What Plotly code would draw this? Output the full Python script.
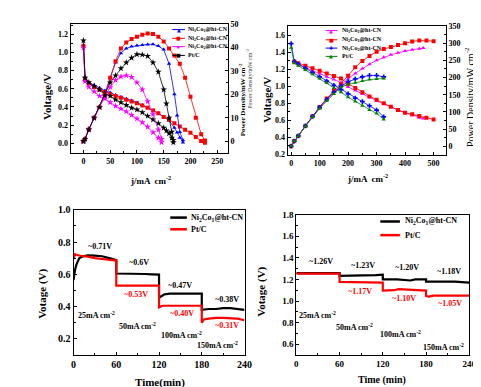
import plotly.graph_objects as go

W, H = 481, 387
SERIF = "Liberation Serif"

# ---------------- Top-left panel: polarization & power (j / mA cm-2) ----------------
tl_ni11_j = [0, 3, 10, 20, 30, 40, 50, 60, 70, 80, 90, 100, 110, 120, 130, 140, 150, 160, 170, 175, 180, 186]
tl_ni11_v = [1.08, 0.73, 0.67, 0.64, 0.61, 0.58, 0.56, 0.53, 0.51, 0.49, 0.47, 0.45, 0.42, 0.39, 0.36, 0.33, 0.29, 0.25, 0.17, 0.12, 0.06, 0.01]
tl_ni11_p = [0, 1, 5, 10, 14.5, 20, 27, 33.5, 37.5, 39.5, 40.3, 40.7, 41, 41.2, 41.3, 40.5, 39, 33, 20, 11, 4, 0.5]

tl_ni21_j = [0, 3, 10, 20, 30, 40, 50, 60, 70, 80, 90, 100, 110, 120, 130, 140, 150, 160, 170, 180, 190, 200, 210, 220, 227]
tl_ni21_v = [1.07, 0.71, 0.66, 0.62, 0.59, 0.565, 0.54, 0.52, 0.50, 0.48, 0.46, 0.44, 0.415, 0.39, 0.36, 0.33, 0.29, 0.26, 0.22, 0.185, 0.15, 0.115, 0.07, 0.025, 0.005]
tl_ni21_p = [0, 1, 5, 10, 14.5, 20, 27, 34, 39.5, 42, 43.5, 44.5, 45.3, 45.8, 45.6, 44.5, 42.5, 39.5, 36.5, 33, 27, 19, 10, 3, 0.3]

tl_ni12_j = [0, 3, 10, 20, 30, 40, 50, 60, 70, 80, 90, 100, 110, 120, 130, 140, 146]
tl_ni12_v = [1.05, 0.68, 0.62, 0.57, 0.52, 0.49, 0.45, 0.41, 0.38, 0.35, 0.31, 0.27, 0.23, 0.18, 0.12, 0.06, 0.01]
tl_ni12_p = [0, 1, 5, 10, 14.5, 19, 23, 26, 27.5, 28, 27.3, 25, 22, 17, 11.5, 5, 1]

tl_pt_j = [0, 3, 10, 20, 30, 40, 50, 60, 70, 80, 90, 100, 110, 120, 130, 140, 150, 155, 160, 165, 168]
tl_pt_v = [1.13, 0.72, 0.67, 0.63, 0.59, 0.55, 0.52, 0.48, 0.45, 0.42, 0.39, 0.37, 0.34, 0.30, 0.26, 0.22, 0.17, 0.14, 0.11, 0.06, 0.01]
tl_pt_p = [0, 1, 5, 10, 14.5, 19.5, 25, 28, 31, 33.5, 35.5, 37, 36.8, 36.2, 33.5, 29.5, 22, 16, 10, 4, 0.5]

# ---------------- Top-right panel ----------------
tr_a_j = [11, 25, 50, 75, 100, 125, 150, 175, 200, 225, 250, 275, 300, 325, 350, 375, 400, 425, 450, 464]
tr_a_v = [1.29, 1.26, 1.22, 1.18, 1.15, 1.11, 1.08, 1.04, 0.99, 0.95, 0.91, 0.87, 0.83, 0.79, 0.76, 0.72, 0.69, 0.66, 0.63, 0.62]
tr_a_pj = [0, 11, 25, 50, 75, 100, 125, 150, 175, 200, 225, 250, 275, 300, 325, 350, 375, 400, 425, 450, 464]
tr_a_p = [0, 15, 30, 59, 87, 113, 137, 158, 178, 197, 212, 226, 239, 250, 259, 266, 272, 277, 281, 284, 286]

tr_b_j = [11, 25, 50, 75, 100, 125, 150, 175, 200, 225, 250, 275, 300, 325, 350, 375, 400, 425, 450, 475, 500]
tr_b_v = [1.29, 1.27, 1.24, 1.21, 1.18, 1.15, 1.12, 1.09, 1.03, 0.98, 0.93, 0.88, 0.84, 0.80, 0.76, 0.72, 0.69, 0.67, 0.65, 0.63, 0.61]
tr_b_pj = [0, 11, 25, 50, 75, 100, 125, 150, 175, 200, 225, 250, 275, 300, 325, 350, 375, 400, 425, 450, 475, 500]
tr_b_p = [0, 15, 30, 59, 87, 114, 139, 161, 182, 205, 230, 248, 263, 275, 283, 289, 295, 300, 305, 308, 308, 306]

tr_c_j = [0, 11, 25, 50, 75, 100, 125, 150, 175, 200, 225, 250, 275, 300, 325]
tr_c_v = [1.50, 1.29, 1.26, 1.21, 1.16, 1.11, 1.06, 1.01, 0.96, 0.91, 0.86, 0.82, 0.77, 0.72, 0.64]
tr_c_p = [0, 15, 30, 59, 87, 113, 136, 157, 175, 188, 196, 202, 206, 206, 202]

tr_pt_j = [0, 11, 25, 50, 75, 100, 125, 150, 175, 200, 225, 250, 275, 300, 325]
tr_pt_v = [1.45, 1.27, 1.24, 1.19, 1.14, 1.09, 1.04, 0.98, 0.93, 0.87, 0.82, 0.77, 0.72, 0.68, 0.61]
tr_pt_p = [0, 15, 30, 58, 85, 110, 132, 152, 172, 180, 185, 190, 194, 196, 197]

# ---------------- Bottom-left panel: stability ----------------
bl_ni_t = [0, 1, 2, 4, 6, 8, 12, 16, 20, 30, 40, 50, 60, 60, 70, 80, 90, 100, 110, 120, 120, 123, 127, 135, 150, 165, 180, 180, 190, 200, 210, 220, 230, 240]
bl_ni_v = [0.565, 0.60, 0.625, 0.66, 0.685, 0.70, 0.71, 0.715, 0.718, 0.716, 0.712, 0.70, 0.688, 0.605, 0.605, 0.605, 0.603, 0.602, 0.60, 0.598, 0.455, 0.465, 0.475, 0.48, 0.48, 0.48, 0.48, 0.38, 0.385, 0.385, 0.39, 0.39, 0.385, 0.38]
bl_pt_t = [0, 1, 2, 5, 10, 20, 30, 40, 50, 60, 60, 80, 100, 120, 120, 125, 130, 150, 180, 180, 183, 190, 200, 210, 220, 230, 240]
bl_pt_v = [0.695, 0.72, 0.725, 0.72, 0.715, 0.71, 0.70, 0.695, 0.69, 0.685, 0.53, 0.53, 0.53, 0.53, 0.395, 0.405, 0.405, 0.405, 0.405, 0.30, 0.32, 0.325, 0.33, 0.33, 0.328, 0.325, 0.315]
bl_ni_labels = ["~0.71V", "~0.6V", "~0.47V", "~0.38V"]
bl_pt_labels = ["~0.53V", "~0.40V", "~0.31V"]
current_labels = ["25mA cm<sup>-2</sup>", "50mA cm<sup>-2</sup>", "100mA cm<sup>-2</sup>", "150mA cm<sup>-2</sup>"]

# ---------------- Bottom-right panel ----------------
br_ni_t = [0, 30, 60, 60, 80, 90, 100, 110, 120, 120, 140, 158, 165, 180, 180, 200, 220, 240]
br_ni_v = [1.258, 1.258, 1.258, 1.232, 1.235, 1.24, 1.235, 1.24, 1.245, 1.20, 1.20, 1.19, 1.20, 1.20, 1.18, 1.18, 1.18, 1.17]
br_pt_t = [0, 30, 60, 60, 80, 100, 120, 120, 135, 142, 160, 180, 180, 184, 190, 240]
br_pt_v = [1.253, 1.253, 1.253, 1.178, 1.175, 1.172, 1.17, 1.096, 1.10, 1.11, 1.10, 1.096, 1.048, 1.04, 1.05, 1.05]
br_ni_labels = ["~1.26V", "~1.23V", "~1.20V", "~1.18V"]
br_pt_labels = ["~1.17V", "~1.10V", "~1.05V"]

NI11 = "Ni<sub>1</sub>Co<sub>1</sub>@ht-CN"
NI21 = "Ni<sub>2</sub>Co<sub>1</sub>@ht-CN"
NI12 = "Ni<sub>1</sub>Co<sub>2</sub>@ht-CN"
PTC = "Pt/C"

BLUE, RED, MAG, BLK, GRN = "#0000ff", "#ff0000", "#ff00ff", "#000000", "#008000"

fig = go.Figure()


def add(x, y, xa, ya, color, symbol=None, size=4, width=0.8, name=""):
    mode = "lines+markers" if symbol else "lines"
    fig.add_trace(go.Scatter(
        x=x, y=y, xaxis=xa, yaxis=ya, mode=mode, name=name,
        line=dict(color=color, width=width),
        marker=dict(symbol=symbol or "circle", size=size, color=color, line=dict(width=0)),
        showlegend=False))


# top-left
add(tl_ni11_j, tl_ni11_v, "x", "y", BLUE, "triangle-up", 4, name=NI11)
add(tl_ni11_j, tl_ni11_p, "x", "y2", BLUE, "triangle-up", 4, name=NI11)
add(tl_ni21_j, tl_ni21_v, "x", "y", RED, "square", 4, name=NI21)
add(tl_ni21_j, tl_ni21_p, "x", "y2", RED, "square", 4, name=NI21)
add(tl_ni12_j, tl_ni12_v, "x", "y", MAG, "star", 5, name=NI12)
add(tl_ni12_j, tl_ni12_p, "x", "y2", MAG, "star", 5, name=NI12)
add(tl_pt_j, tl_pt_v, "x", "y", BLK, "star", 5, name=PTC)
add(tl_pt_j, tl_pt_p, "x", "y2", BLK, "star", 5, name=PTC)
# top-right
add(tr_a_j, tr_a_v, "x2", "y3", MAG, "triangle-up", 4, name=NI11)
add(tr_a_pj, tr_a_p, "x2", "y4", MAG, "triangle-up", 4, name=NI11)
add(tr_b_j, tr_b_v, "x2", "y3", RED, "square", 4, name=NI21)
add(tr_b_pj, tr_b_p, "x2", "y4", RED, "square", 4, name=NI21)
add(tr_c_j, tr_c_v, "x2", "y3", BLUE, "cross", 4, name=NI12)
add(tr_c_j, tr_c_p, "x2", "y4", BLUE, "cross", 4, name=NI12)
add(tr_pt_j, tr_pt_v, "x2", "y3", GRN, "triangle-up", 4, name=PTC)
add(tr_pt_j, tr_pt_p, "x2", "y4", GRN, "triangle-up", 4, name=PTC)
# bottom
add(bl_ni_t, bl_ni_v, "x3", "y5", BLK, None, width=2.2, name=NI21)
add(bl_pt_t, bl_pt_v, "x3", "y5", RED, None, width=2.2, name=PTC)
add(br_ni_t, br_ni_v, "x4", "y6", BLK, None, width=2.2, name=NI21)
add(br_pt_t, br_pt_v, "x4", "y6", RED, None, width=2.2, name=PTC)


def dx(l, r):
    return [l / W, r / W]


def dy(t, b):
    return [1 - b / H, 1 - t / H]


def axis(size, dtick, rng, minor_dtick=None, **kw):
    a = dict(showline=True, linecolor="black", linewidth=1, mirror=True,
             ticks="inside", ticklen=3, tickcolor="black", tickwidth=1,
             showgrid=False, zeroline=False, range=rng, dtick=dtick, tick0=0,
             tickfont=dict(family=SERIF, size=size, color="black", weight="bold"))
    if minor_dtick:
        a["minor"] = dict(ticks="inside", ticklen=2, dtick=minor_dtick, tickcolor="black", showgrid=False)
    a.update(kw)
    return a


fig.update_layout(
    width=W, height=H, autosize=False,
    margin=dict(l=0, r=0, t=0, b=0),
    paper_bgcolor="white", plot_bgcolor="white",
    showlegend=False,
    font=dict(family=SERIF, size=8, color="black"),
    xaxis=axis(8, 50, [-24, 270], 25, domain=dx(61, 222), anchor="y"),
    yaxis=axis(8, 0.2, [-0.11, 1.315], 0.1, domain=dy(10, 143), anchor="x", tickformat=".1f"),
    yaxis2=axis(8, 10, [-5.1, 50], 5, overlaying="y", side="right", anchor="x", mirror=False),
    xaxis2=axis(8, 100, [-12.7, 543], 50, domain=dx(283, 445), anchor="y3"),
    yaxis3=axis(8, 0.2, [0.19, 1.71], 0.1, domain=dy(12, 145), anchor="x2", tickformat=".1f"),
    yaxis4=axis(8, 50, [-26.4, 351], 25, overlaying="y3", side="right", anchor="x2", mirror=False),
    xaxis3=axis(10, 60, [0, 240], 30, domain=dx(64, 239), anchor="y5"),
    yaxis5=axis(10, 0.2, [0.1, 1.0], 0.1, domain=dy(201, 350), anchor="x3", tickformat=".1f"),
    xaxis4=axis(9, 60, [0, 240], 30, domain=dx(292, 469), anchor="y6"),
    yaxis6=axis(9, 0.2, [0.5, 1.8], 0.1, domain=dy(206, 350), anchor="x4", tickformat=".1f"),
)

annotations = []
shapes = []


def text(x, y, s, size, color="black", bold=True, angle=0, xanchor="center", family=SERIF):
    annotations.append(dict(
        x=x / W, y=1 - y / H, xref="paper", yref="paper",
        text=("<b>%s</b>" % s) if bold else s, showarrow=False,
        xanchor=xanchor, yanchor="middle", textangle=angle,
        font=dict(family=family, size=size, color=color)))


def legend_item(x0, x1, y, color, glyph, gsize, label, fsize, tx, lw=1):
    shapes.append(dict(type="line", xref="paper", yref="paper", x0=x0 / W, x1=x1 / W,
                       y0=1 - y / H, y1=1 - y / H, line=dict(color=color, width=lw)))
    if glyph:
        text((x0 + x1) / 2, y, glyph, gsize, color=color, bold=False, family="DejaVu Sans")
    text(tx, y, label, fsize, xanchor="left")


# axis titles
text(37, 85, "Voltage/V", 11, angle=-90)
text(237, 88, "Power Density/mW cm<sup>-2</sup>", 7, angle=-90)
text(143, 170, "j/mA  cm<sup>-2</sup>", 9)
text(262, 88, "Voltage/V", 11, angle=-90)
text(244, 66, "Power Density/mW cm<sup>-2</sup>", 6, color="#444", bold=False, angle=-90)
text(469, 85, "Power Density/mW cm<sup>-2</sup>", 10, bold=False, angle=-90)
text(365, 168, "j/mA  cm<sup>-2</sup>", 9)
text(32, 287, "Votage (V)", 11, angle=-90)
text(152, 378, "Time(min)", 11)
text(257, 285, "Votage (V)", 11, angle=-90)
text(380, 376, "Time (min)", 10)
text(477, 177, "↵", 7, color="#999", bold=False, family="DejaVu Sans")

# legends
for yy, col, g, lab in [(16, BLUE, "▲", NI11), (25, RED, "■", NI21), (33.5, MAG, "★", NI12), (42.5, BLK, "■", PTC)]:
    legend_item(165, 178, yy, col, g, 5, lab, 6, 179)
for yy, col, g, lab in [(17, MAG, "▲", NI11), (26.5, RED, "■", NI21), (35, BLUE, "✚", NI12), (43.5, GRN, "▲", PTC)]:
    legend_item(322, 334, yy, col, g, 5, lab, 6, 337)
legend_item(163, 180, 209, BLK, None, 0, NI21, 8, 182, lw=2.5)
legend_item(163, 180, 221, RED, None, 0, PTC, 8, 182, lw=2.5)
legend_item(378, 398, 213, BLK, None, 0, NI21, 8, 401, lw=2.5)
legend_item(378, 398, 227, RED, None, 0, PTC, 8, 401, lw=2.5)

# bottom-left labels
for (x, y), s in zip([(91, 239), (131, 255), (173, 279), (221, 293)], bl_ni_labels):
    text(x, y, s, 8)
for (x, y), s in zip([(128, 288), (175, 307), (221, 320)], bl_pt_labels):
    text(x, y, s, 8, color=RED)
for (x, y), s in zip([(88, 309), (129, 320), (175, 330), (211, 340)], current_labels):
    text(x, y, s, 8)
# bottom-right labels
for (x, y), s in zip([(317, 254), (360, 258), (405, 260), (448, 264)], br_ni_labels):
    text(x, y, s, 8)
for (x, y), s in zip([(357, 285), (402, 292), (449, 297)], br_pt_labels):
    text(x, y, s, 8, color=RED)
for (x, y), s in zip([(314, 309), (352, 321), (399, 329), (443, 342)], current_labels):
    text(x, y, s, 8)

fig.update_layout(annotations=annotations, shapes=shapes)
fig.write_html("out.html")
